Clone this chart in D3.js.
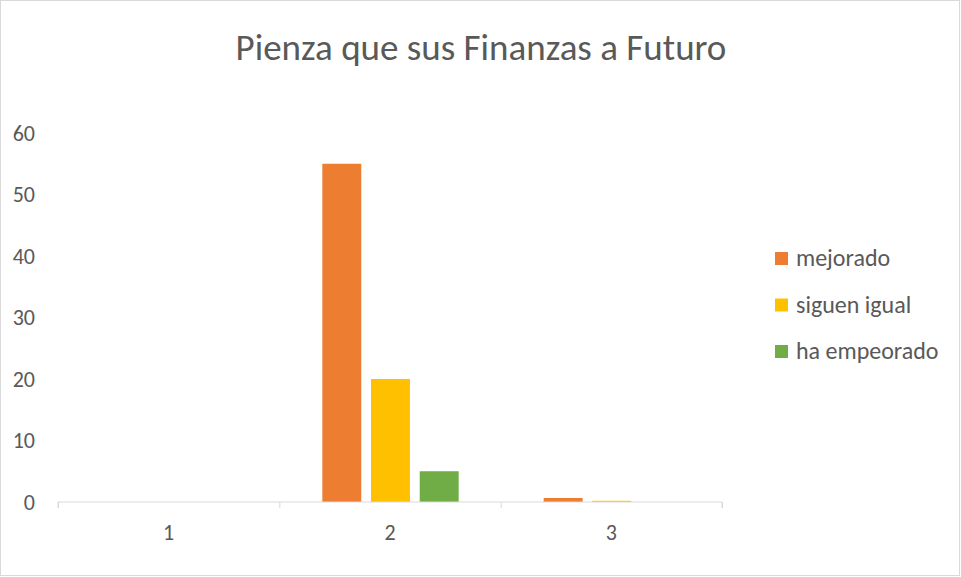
<!DOCTYPE html>
<html>
<head>
<meta charset="utf-8">
<script src="https://cdn.jsdelivr.net/npm/d3@7"></script>
<style>
  body { margin: 0; background: #fff; }
  svg { display: block; font-family: Calibri, Carlito, "Open Sans", sans-serif; }
</style>
</head>
<body>
<svg id="chart"></svg>
<script>
// data
const categories = ['1', '2', '3'];
const seriesNames = ['mejorado', 'siguen igual', 'ha empeorado'];
const seriesColors = ['#ED7D31', '#FFC000', '#70AD47'];
const mejorado = [0, 55, 0.65];
const siguenIgual = [0, 20, 0.2];
const haEmpeorado = [0, 5, 0];
const yTicks = [0, 10, 20, 30, 40, 50, 60];

const seriesValues = [mejorado, siguenIgual, haEmpeorado];

const width = 961, height = 577;
const font = 'Calibri, Carlito, "Open Sans", sans-serif';
const svg = d3.select('#chart').attr('width', width).attr('height', height);

// outer chart border
svg.append('rect')
  .attr('x', 0.5).attr('y', 0.5)
  .attr('width', width - 2).attr('height', height - 2)
  .attr('fill', '#fff').attr('stroke', '#d9d9d9');

const plot = {left: 58, right: 722, top: 133, bottom: 502};

// scales
const x = d3.scaleBand().domain(categories).range([plot.left, plot.right]);
const inner = d3.scaleBand().domain(seriesNames).range([43, x.bandwidth() - 42]).paddingInner(0.2);
const y = d3.scaleLinear().domain([0, 60]).range([plot.bottom, plot.top]);

// title
svg.append('text')
  .attr('x', 481).attr('y', 60)
  .attr('text-anchor', 'middle')
  .attr('fill', '#595959')
  .style('font-size', '37px')
  .text('Pienza que sus Finanzas a Futuro');

// bars
const groups = svg.selectAll('g.cat')
  .data(categories)
  .enter().append('g')
  .attr('transform', d => `translate(${x(d)},0)`);

groups.selectAll('rect')
  .data((d, i) => seriesNames.map((s, j) => ({s: s, v: seriesValues[j][i], c: seriesColors[j]})))
  .enter().append('rect')
  .attr('x', d => inner(d.s))
  .attr('width', inner.bandwidth())
  .attr('y', d => y(d.v))
  .attr('height', d => y(0) - y(d.v))
  .attr('fill', d => d.c);

// y axis labels (no line)
const yAxis = d3.axisLeft(y).tickValues(yTicks).tickSize(0).tickPadding(23);
const gy = svg.append('g').attr('transform', `translate(${plot.left},0)`).call(yAxis)
  .attr('font-family', font).attr('font-size', 22);
gy.select('.domain').remove();
gy.selectAll('text').attr('fill', '#595959');

// x axis
const xAxis = d3.axisBottom(d3.scaleLinear().domain([0, 3]).range([plot.left, plot.right]))
  .tickValues([0, 1, 2, 3]).tickSize(6).tickFormat('');
const gx = svg.append('g').attr('transform', `translate(0,${plot.bottom})`).call(xAxis);
gx.select('.domain').attr('stroke', '#d9d9d9').attr('d', `M${plot.left},6V0H${plot.right}V6`);
gx.selectAll('line').attr('stroke', '#d9d9d9');

svg.append('g').selectAll('text')
  .data(categories)
  .enter().append('text')
  .attr('x', d => x(d) + x.bandwidth() / 2)
  .attr('y', 540)
  .attr('text-anchor', 'middle')
  .attr('fill', '#595959')
  .style('font-size', '22px')
  .text(d => d);

// legend
const legend = svg.append('g').selectAll('g')
  .data(seriesNames)
  .enter().append('g')
  .attr('transform', (d, i) => `translate(775,${252 + i * 46.5})`);
legend.append('rect')
  .attr('width', 13).attr('height', 13)
  .attr('fill', (d, i) => seriesColors[i]);
legend.append('text')
  .attr('x', 21).attr('y', 14)
  .attr('fill', '#595959')
  .style('font-size', '24px')
  .text(d => d);
</script>
</body>
</html>
